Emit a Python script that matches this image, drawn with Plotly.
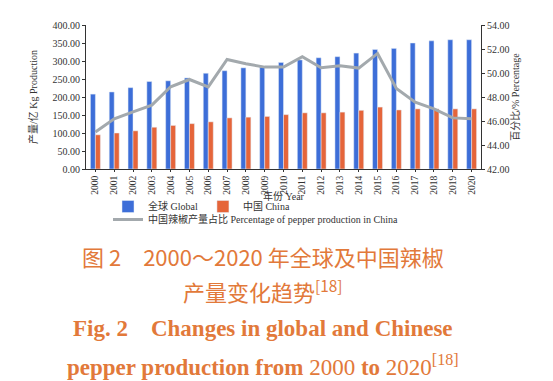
import plotly.graph_objects as go

years = [str(y) for y in range(2000, 2021)]
global_prod = [208, 214, 226, 243, 245, 253, 266, 273, 281, 283, 296, 303, 309, 312, 322, 332, 335, 350, 356, 359, 359]
china_prod = [95, 100, 106, 116, 121, 126, 131, 142, 144, 146, 151, 156, 156, 158, 163, 172, 164, 167, 167, 167, 167]
china_pct = [45.09, 46.18, 46.76, 47.32, 48.85, 49.46, 48.85, 51.13, 50.77, 50.49, 50.49, 51.36, 50.44, 50.6, 50.41, 51.63, 48.71, 47.57, 47.01, 46.26, 46.18]
left_ticks = [0, 50, 100, 150, 200, 250, 300, 350, 400]
right_ticks = [42, 44, 46, 48, 50, 52, 54]

W, H = 553, 381
L, R, T, B = 78, 473, 17, 161
serif = "Liberation Serif, Noto Sans CJK SC, serif"
orange = "#E2793A"

def py(px):
    return (B - px) / (B - T)

def px_x(px):
    return (px - L) / (R - L)

fig = go.Figure()
fig.add_trace(go.Bar(x=years, y=global_prod, name="全球 Global", marker_color="#3D6ED8", legend="legend"))
fig.add_trace(go.Bar(x=years, y=china_prod, name="中国 China", marker_color="#E5653A", legend="legend"))
fig.add_trace(go.Scatter(x=years, y=china_pct, name="中国辣椒产量占比 Percentage of pepper production in China",
                         mode="lines", line=dict(color="#A3A9AD", width=3), yaxis="y2", legend="legend2"))

fig.update_layout(
    width=W, height=H,
    margin=dict(l=L, r=W - R, t=T, b=H - B, pad=0),
    paper_bgcolor="white", plot_bgcolor="white",
    barmode="group", bargap=0.47, bargroupgap=0,
    font=dict(family=serif, size=10, color="#333"),
    xaxis=dict(type="category", tickangle=-90, tickfont=dict(size=9.5, color="#333"),
               showline=True, linecolor="#333", ticks="outside", ticklen=2, tickcolor="#333",
               showgrid=False),
    yaxis=dict(range=[0, 400], tickvals=left_ticks, ticktext=[f"{v:.2f}" for v in left_ticks],
               showline=True, linecolor="#333", ticks="outside", ticklen=3, tickcolor="#333",
               showgrid=False, zeroline=False,
               title=dict(text="产量/亿 Kg Production", font=dict(size=10), standoff=13)),
    yaxis2=dict(range=[42, 54], tickvals=right_ticks, ticktext=[f"{v:.2f}" for v in right_ticks],
                overlaying="y", side="right", showline=True, linecolor="#333", ticks="outside",
                ticklen=3, tickcolor="#333", showgrid=False, zeroline=False,
                title=dict(text="百分比/% Percentage", font=dict(size=10), standoff=3)),
    legend=dict(orientation="h", x=px_x(100), y=py(184), xanchor="left", yanchor="top",
                font=dict(size=10), itemwidth=30, tracegroupgap=0, bgcolor="rgba(0,0,0,0)"),
    legend2=dict(orientation="h", x=px_x(100), y=py(197), xanchor="left", yanchor="top",
                 font=dict(size=10), itemwidth=30, bgcolor="rgba(0,0,0,0)"),
    showlegend=True,
)

# x-axis title
fig.add_annotation(text="年份 Year", xref="paper", yref="paper", x=0.5, y=py(188),
                   xanchor="center", yanchor="middle", showarrow=False,
                   font=dict(size=10, color="#333", family=serif))

captions = [
    ("图 2　2000～2020 年全球及中国辣椒", 248, 22, "Noto Sans CJK SC, sans-serif"),
    ("产量变化趋势<sup>[18]</sup>", 282, 22, "Noto Sans CJK SC, sans-serif"),
    ("<b>Fig. 2　Changes in global and Chinese</b>", 320, 23, "Liberation Serif, serif"),
    ("<b>pepper production from</b> 2000 <b>to</b> 2020<sup>[18]</sup>", 357, 23, "Liberation Serif, serif"),
]
for text, ypx, size, fam in captions:
    fig.add_annotation(text=text, xref="paper", yref="paper", x=px_x(255), y=py(ypx),
                       xanchor="center", yanchor="middle", showarrow=False,
                       font=dict(size=size, color=orange, family=fam))

fig.write_html("out.html")
